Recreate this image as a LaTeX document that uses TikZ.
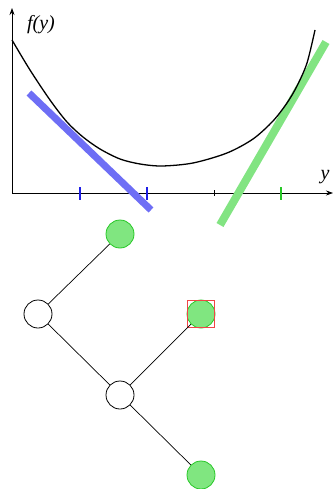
\documentclass[tikz,border=0pt]{standalone}
\usepackage{fontspec}
\setmainfont{Liberation Serif}
\usetikzlibrary{arrows.meta}
\definecolor{leafgreen}{RGB}{128,230,128}
\definecolor{leafedge}{RGB}{40,200,40}
\definecolor{tanblue}{RGB}{110,110,245}
\definecolor{tickblue}{RGB}{30,30,230}
\definecolor{tangreen}{RGB}{130,228,130}
\definecolor{tickgreen}{RGB}{40,200,40}
\definecolor{boxred}{RGB}{240,70,70}
\begin{document}
\begin{tikzpicture}[x=1pt,y=-1pt,
  axis/.style={line width=0.8pt,-{Stealth[length=7pt,width=5pt]}},
  leaf/.style={circle,draw=leafedge,fill=leafgreen,line width=0.8pt,minimum size=28pt,inner sep=0pt},
  inner/.style={circle,draw=black,fill=white,line width=0.8pt,minimum size=28pt,inner sep=0pt},
  edge/.style={line width=0.7pt},
  lbl/.style={font=\itshape\fontsize{20}{20}\selectfont,inner sep=0pt}]
\useasboundingbox (0,0) rectangle (333,489);
% axes
\coordinate (O) at (12,193);
\coordinate (Ytop) at (12,8);
\coordinate (Xend) at (333,193);
\draw[axis] (O) -- (Ytop);
\draw[axis] (O) -- (Xend);
\node[lbl] (fy) at (41,25) {f(y)};
\node[lbl] (ylab) at (325,177) {y};
% ticks
\draw[tickblue,line width=1.2pt] (80,187) -- (80,200);
\draw[tickblue,line width=1.2pt] (147,187) -- (147,200);
\draw[black,line width=0.6pt] (214,190) -- (214,196);
\draw[tickgreen,line width=1.2pt] (281,187) -- (281,200);
% tangents
\draw[tanblue,line width=7pt] (29,93) -- (151,210);
\draw[tangreen,line width=8pt] (220,225) -- (326,42);
% curve
\draw[line width=1.3pt] plot[smooth,tension=0.5] coordinates {(12,40) (30,70) (50,100) (67,122) (83,137) (100,149) (120,159) (140,164) (162,166) (193,163) (227,153) (253,139) (273,121) (287,103) (297,86) (307,63) (315,30)};
% tree
\node[leaf] (A) at (120,234) {};
\node[inner] (B) at (38,314) {};
\node[leaf] (C) at (201,314) {};
\node[inner] (D) at (120,395) {};
\node[leaf] (E) at (201,475) {};
\node[draw=boxred,line width=0.6pt,minimum size=27pt,inner sep=0pt] (Cbox) at (C) {};
\draw[edge] (A) -- (B);
\draw[edge] (B) -- (D);
\draw[edge] (D) -- (C);
\draw[edge] (D) -- (E);
\end{tikzpicture}
\end{document}
